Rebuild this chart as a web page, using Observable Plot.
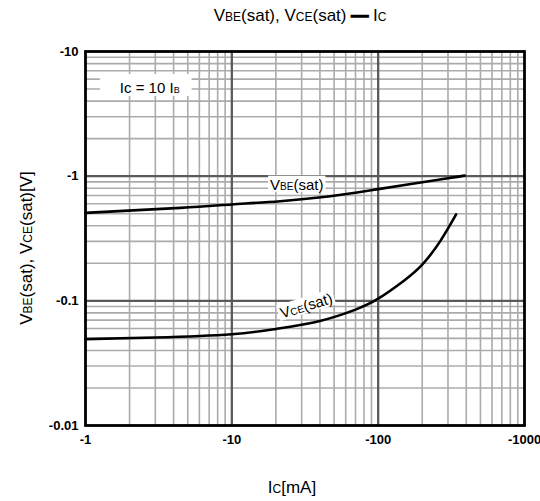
<!DOCTYPE html>
<html><head><meta charset="utf-8">
<script src="https://cdn.jsdelivr.net/npm/d3@7"></script>
<script src="https://cdn.jsdelivr.net/npm/@observablehq/plot@0.6"></script>
<style>body{margin:0;background:#fff} svg{display:block}</style>
</head><body><div id="chart"></div>
<script>
// Collector current magnitudes (mA) and saturation voltages (V)
const vbeIc = [1, 4.45, 10, 21.4, 47, 100, 293, 390];
const vbeV  = [0.508, 0.557, 0.593, 0.63, 0.69, 0.787, 0.957, 1.01];
const vceIc = [1, 3, 10, 20, 40, 70, 100, 150, 200, 265, 341];
const vceV  = [0.0493, 0.0508, 0.054, 0.0595, 0.069, 0.085, 0.104, 0.145, 0.195, 0.3, 0.493];

// Axis ticks (labels shown with a minus sign)
const icTicks = [1, 10, 100, 1000];
const vTicks = [0.01, 0.1, 1, 10];
const icMajor = [10, 100];
const vMajor = [0.1, 1];
const icMinor = [2,3,4,5,6,7,8,9, 20,30,40,50,60,70,80,90, 200,300,400,500,600,700,800,900];
const vMinor = [0.02,0.03,0.04,0.05,0.06,0.07,0.08,0.09, 0.2,0.3,0.4,0.5,0.6,0.7,0.8,0.9, 2,3,4,5,6,7,8,9];

// Curve labels anchored in data coordinates
const curveLabels = [
  {parts: [["V",0],["BE",1],["(sat)",0]], ic: 28, v: 0.772, angle: 0},
  {parts: [["V",0],["CE",1],["(sat)",0]], ic: 33.3, v: 0.0826, angle: -17}
];
const noteLabel = {parts: [["Ic = 10 I",0],["B",1]], ic: 1.73, v: 4.6};

const vbe = vbeIc.map((ic, i) => ({ic, v: vbeV[i]}));
const vce = vceIc.map((ic, i) => ({ic, v: vceV[i]}));
const neg = d => "-" + d;

const plot = Plot.plot({
  width: 540, height: 501,
  marginLeft: 85, marginRight: 16, marginTop: 51, marginBottom: 76,
  style: {fontFamily: "'Liberation Sans', Arial, sans-serif", background: "#fff", color: "#000"},
  x: {type: "log", domain: [1, 1000], ticks: icTicks, tickFormat: neg, tickSize: 0, tickPadding: 9, label: null},
  y: {type: "log", domain: [0.01, 10], ticks: vTicks, tickFormat: neg, tickSize: 0, tickPadding: 7, label: null},
  marks: [
    Plot.ruleX(icMinor, {stroke: "#ababab", strokeWidth: 1.6}),
    Plot.ruleY(vMinor, {stroke: "#ababab", strokeWidth: 1.6}),
    Plot.ruleX(icMajor, {stroke: "#5a5a5a", strokeWidth: 2.3}),
    Plot.ruleY(vMajor, {stroke: "#5a5a5a", strokeWidth: 2.3}),
    Plot.line(vbe, {x: "ic", y: "v", curve: "natural", stroke: "#000", strokeWidth: 2.6}),
    Plot.line(vce, {x: "ic", y: "v", curve: "natural", stroke: "#000", strokeWidth: 2.6}),
    Plot.frame({stroke: "#000", strokeWidth: 2.8})
  ]
});
document.getElementById("chart").appendChild(plot);

const svg = d3.select(plot);
svg.selectAll('g[aria-label^="x-axis"] text, g[aria-label^="y-axis"] text')
  .style("font-weight", "bold").style("font-size", "13px").attr("fill", "#000");

const sx = plot.scale("x"), sy = plot.scale("y");

function rich(g, parts, size, subSize, anchor) {
  const t = g.append("text").attr("text-anchor", anchor).attr("fill", "#000")
    .style("font-family", "'Liberation Sans', Arial, sans-serif").style("font-size", size + "px");
  parts.forEach(([s, sub]) => {
    const ts = t.append("tspan").text(s);
    if (sub) ts.style("font-size", subSize + "px");
    else if (s === "—") ts.style("font-weight", "bold").attr("stroke", "#000").attr("stroke-width", 1.4);
  });
  return t;
}
function boxed(g, t, pl, pr, pt, pb) {
  const b = t.node().getBBox();
  g.insert("rect", "text").attr("x", b.x - pl).attr("y", b.y - pt)
    .attr("width", b.width + pl + pr).attr("height", b.height + pt + pb).attr("fill", "#fff");
}

// Note "Ic = 10 IB"
{
  const g = svg.append("g").attr("transform", `translate(${sx.apply(noteLabel.ic)},${sy.apply(noteLabel.v)})`);
  const t = rich(g, noteLabel.parts, 15, 9, "start");
  boxed(g, t, 20, 12, 5, 0);
}
// Curve labels
for (const L of curveLabels) {
  const g = svg.append("g").attr("transform", `translate(${sx.apply(L.ic)},${sy.apply(L.v)}) rotate(${L.angle})`);
  const t = rich(g, L.parts, 15, 10, "middle");
  boxed(g, t, 2, 2, 0, -1);
}
// Title
{
  const g = svg.append("g").attr("transform", "translate(300,21)");
  rich(g, [["V",0],["BE",1],["(sat), V",0],["CE",1],["(sat) ",0],["—",0],[" I",0],["C",1]], 17, 12, "middle");
}
// X label
{
  const g = svg.append("g").attr("transform", "translate(292,493)");
  rich(g, [["I",0],["C",1],["[mA]",0]], 17, 12, "middle");
}
// Y label
{
  const g = svg.append("g").attr("transform", "translate(32,248) rotate(-90)");
  rich(g, [["V",0],["BE",1],["(sat), V",0],["CE",1],["(sat)[V]",0]], 17, 12, "middle");
}
</script></body></html>
